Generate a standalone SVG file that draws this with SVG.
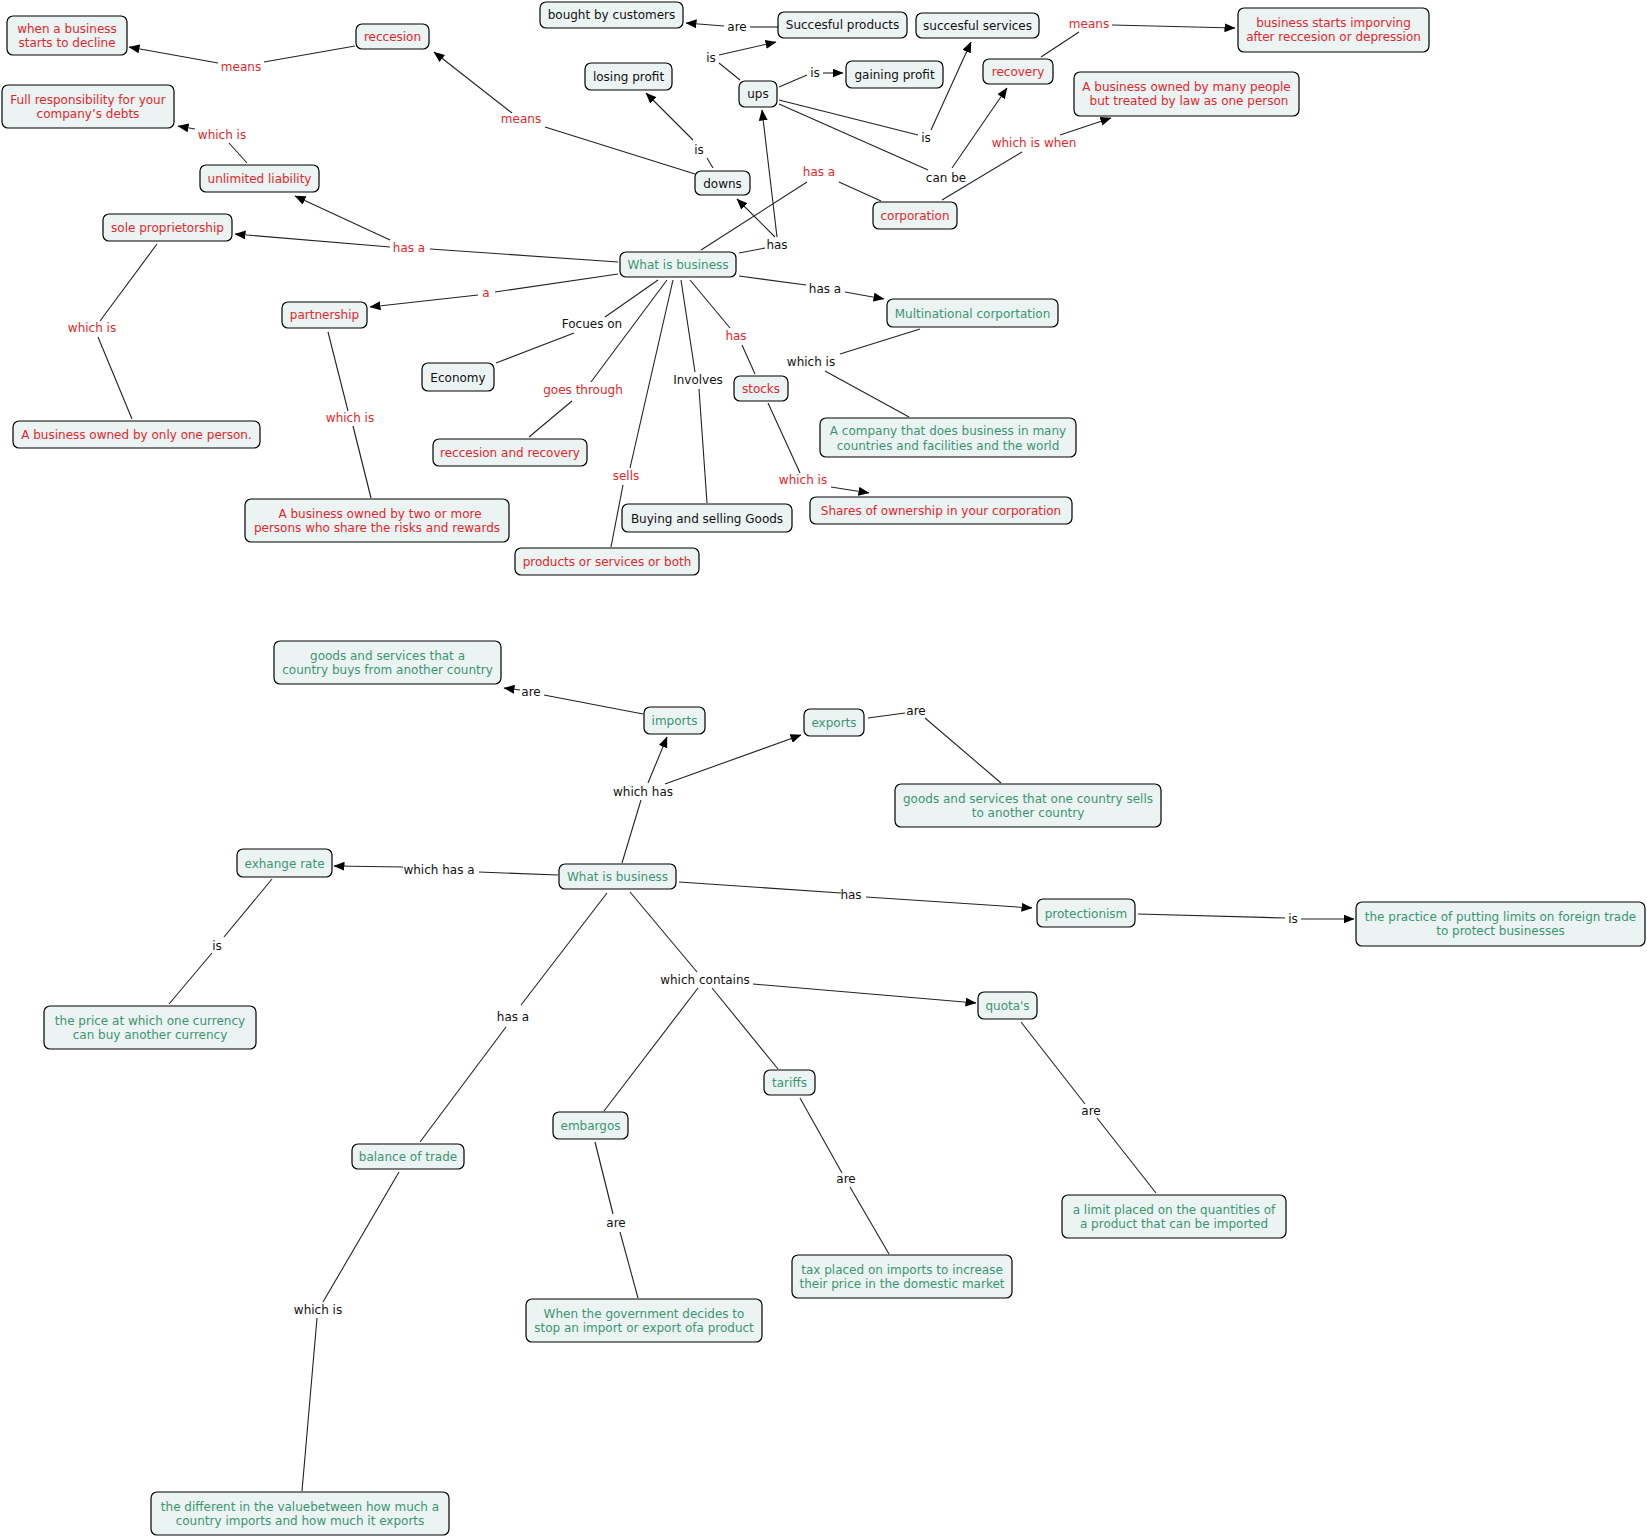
<svg xmlns="http://www.w3.org/2000/svg" width="1647" height="1537" viewBox="0 0 1647 1537">
<style>
text{font-family:"DejaVu Sans","Verdana",sans-serif;font-size:12px;text-anchor:middle}
.box{fill:#ecf3f3;stroke:#000;stroke-width:1.2}
.r{fill:#e3262b}
.g{fill:#3b9670}
.k{fill:#111}
.c line{stroke:#222;stroke-width:1.1}
.c line.a{marker-end:url(#ah)}
</style>
<defs>
<marker id="ah" markerUnits="userSpaceOnUse" markerWidth="11" markerHeight="9" refX="10.5" refY="4.5" orient="auto">
<path d="M0,0 L11,4.5 L0,9 z" fill="#000"/>
</marker>
</defs>
<rect width="1647" height="1537" fill="#fff"/>
<g id="connectors" class="c">
<line x1="355" y1="46" x2="264" y2="62"/><line class="a" x1="218" y1="63" x2="129" y2="47"/>
<line x1="695" y1="174" x2="545" y2="127"/><line class="a" x1="512" y1="113" x2="434" y2="52"/>
<line x1="247" y1="163" x2="229" y2="143"/><line class="a" x1="195" y1="129" x2="178" y2="126"/>
<line x1="618" y1="262" x2="430" y2="249"/><line class="a" x1="390" y1="240" x2="295" y2="196"/><line class="a" x1="390" y1="247" x2="235" y2="234"/>
<line x1="778" y1="27" x2="750" y2="27"/><line class="a" x1="724" y1="26" x2="686" y2="23"/>
<line x1="740" y1="80" x2="719" y2="63"/><line class="a" x1="719" y1="55" x2="776" y2="42"/>
<line x1="779" y1="87" x2="807" y2="75"/><line class="a" x1="823" y1="73" x2="843" y2="73"/>
<line x1="713" y1="168" x2="707" y2="158"/><line class="a" x1="693" y1="140" x2="646" y2="93"/>
<line x1="739" y1="253" x2="765" y2="248"/><line class="a" x1="775" y1="237" x2="737" y2="199"/><line class="a" x1="777" y1="237" x2="762" y2="110"/>
<line x1="701" y1="250" x2="807" y2="182"/><line x1="839" y1="182" x2="881" y2="201"/>
<line x1="779" y1="100" x2="918" y2="135"/><line class="a" x1="931" y1="130" x2="971" y2="42"/>
<line x1="779" y1="104" x2="928" y2="170"/><line class="a" x1="952" y1="168" x2="1007" y2="88"/>
<line x1="1041" y1="57" x2="1079" y2="32"/><line class="a" x1="1112" y1="25" x2="1235" y2="28"/>
<line x1="942" y1="200" x2="1022" y2="152"/><line class="a" x1="1060" y1="135" x2="1111" y2="118"/>
<line x1="739" y1="276" x2="806" y2="285"/><line class="a" x1="845" y1="292" x2="884" y2="299"/>
<line x1="920" y1="329" x2="840" y2="354"/><line x1="825" y1="371" x2="909" y2="417"/>
<line x1="690" y1="280" x2="730" y2="328"/><line x1="742" y1="345" x2="755" y2="374"/>
<line x1="768" y1="403" x2="800" y2="473"/><line class="a" x1="831" y1="487" x2="869" y2="493"/>
<line x1="681" y1="280" x2="695" y2="372"/><line x1="699" y1="389" x2="707" y2="503"/>
<line x1="673" y1="280" x2="630" y2="468"/><line x1="623" y1="485" x2="611" y2="547"/>
<line x1="667" y1="280" x2="591" y2="382"/><line x1="572" y1="401" x2="529" y2="437"/>
<line x1="658" y1="280" x2="605" y2="317"/><line x1="574" y1="333" x2="496" y2="363"/>
<line x1="618" y1="274" x2="495" y2="292"/><line class="a" x1="478" y1="295" x2="370" y2="307"/>
<line x1="157" y1="244" x2="100" y2="321"/><line x1="98" y1="337" x2="132" y2="419"/>
<line x1="328" y1="332" x2="348" y2="411"/><line x1="353" y1="426" x2="371" y2="498"/>
<line x1="643" y1="714" x2="544" y2="695"/><line class="a" x1="520" y1="690" x2="504" y2="688"/>
<line x1="622" y1="863" x2="641" y2="800"/><line class="a" x1="648" y1="783" x2="667" y2="737"/><line class="a" x1="665" y1="784" x2="801" y2="735"/>
<line x1="868" y1="718" x2="905" y2="713"/><line x1="925" y1="718" x2="1001" y2="783"/>
<line x1="558" y1="875" x2="479" y2="872"/><line class="a" x1="403" y1="867" x2="334" y2="866"/>
<line x1="679" y1="882" x2="841" y2="893"/><line class="a" x1="866" y1="897" x2="1032" y2="908"/>
<line x1="1138" y1="914" x2="1285" y2="918"/><line class="a" x1="1301" y1="919" x2="1354" y2="919"/>
<line x1="272" y1="879" x2="224" y2="937"/><line x1="212" y1="953" x2="169" y2="1004"/>
<line x1="607" y1="893" x2="521" y2="1005"/><line x1="506" y1="1027" x2="420" y2="1142"/>
<line x1="630" y1="892" x2="697" y2="972"/><line class="a" x1="753" y1="984" x2="976" y2="1003"/><line x1="698" y1="988" x2="604" y2="1111"/><line x1="712" y1="988" x2="778" y2="1069"/>
<line x1="1021" y1="1022" x2="1085" y2="1104"/><line x1="1097" y1="1118" x2="1156" y2="1193"/>
<line x1="800" y1="1098" x2="842" y2="1173"/><line x1="850" y1="1187" x2="889" y2="1254"/>
<line x1="595" y1="1142" x2="613" y2="1214"/><line x1="620" y1="1232" x2="638" y2="1298"/>
<line x1="399" y1="1172" x2="323" y2="1302"/><line x1="317" y1="1318" x2="302" y2="1491"/>
<text class="r" x="241" y="71">means</text>
<text class="r" x="521" y="123">means</text>
<text class="r" x="222" y="139">which is</text>
<text class="r" x="409" y="252">has a</text>
<text class="k" x="737" y="31">are</text>
<text class="k" x="711" y="62">is</text>
<text class="k" x="815" y="77">is</text>
<text class="k" x="699" y="154">is</text>
<text class="k" x="777" y="249">has</text>
<text class="r" x="819" y="176">has a</text>
<text class="k" x="926" y="142">is</text>
<text class="k" x="946" y="182">can be</text>
<text class="r" x="1089" y="28">means</text>
<text class="r" x="1034" y="147">which is when</text>
<text class="k" x="825" y="293">has a</text>
<text class="k" x="811" y="366">which is</text>
<text class="r" x="736" y="340">has</text>
<text class="r" x="803" y="484">which is</text>
<text class="k" x="698" y="384">Involves</text>
<text class="r" x="626" y="480">sells</text>
<text class="r" x="583" y="394">goes through</text>
<text class="k" x="592" y="328">Focues on</text>
<text class="r" x="486" y="297">a</text>
<text class="r" x="92" y="332">which is</text>
<text class="r" x="350" y="422">which is</text>
<text class="k" x="531" y="696">are</text>
<text class="k" x="643" y="796">which has</text>
<text class="k" x="916" y="715">are</text>
<text class="k" x="439" y="874">which has a</text>
<text class="k" x="851" y="899">has</text>
<text class="k" x="1293" y="923">is</text>
<text class="k" x="217" y="950">is</text>
<text class="k" x="513" y="1021">has a</text>
<text class="k" x="705" y="984">which contains</text>
<text class="k" x="1091" y="1115">are</text>
<text class="k" x="846" y="1183">are</text>
<text class="k" x="616" y="1227">are</text>
<text class="k" x="318" y="1314">which is</text>
</g>
<g id="n_decline"><rect class="box" x="7" y="16" width="120" height="39" rx="6"/><text class="r" x="67" y="33">when a business</text><text class="r" x="67" y="47">starts to decline</text></g>
<g id="n_reccesion"><rect class="box" x="356" y="24" width="73" height="25" rx="6"/><text class="r" x="392.5" y="41">reccesion</text></g>
<g id="n_fullresp"><rect class="box" x="2" y="85" width="172" height="43" rx="6"/><text class="r" x="88" y="104">Full responsibility for your</text><text class="r" x="88" y="118">company’s debts</text></g>
<g id="n_unlimited"><rect class="box" x="200" y="165" width="119" height="27" rx="6"/><text class="r" x="259.5" y="183">unlimited liability</text></g>
<g id="n_soleprop"><rect class="box" x="103" y="214" width="129" height="27" rx="6"/><text class="r" x="167.5" y="232">sole proprietorship</text></g>
<g id="n_bought"><rect class="box" x="540" y="2" width="143" height="26" rx="6"/><text class="k" x="611.5" y="19">bought by customers</text></g>
<g id="n_sucprod"><rect class="box" x="778" y="12" width="129" height="26" rx="6"/><text class="k" x="842.5" y="29">Succesful products</text></g>
<g id="n_sucserv"><rect class="box" x="916" y="13" width="123" height="25" rx="6"/><text class="k" x="977.5" y="30">succesful services</text></g>
<g id="n_losing"><rect class="box" x="585" y="63" width="87" height="27" rx="6"/><text class="k" x="628.5" y="81">losing profit</text></g>
<g id="n_ups"><rect class="box" x="739" y="81" width="38" height="26" rx="6"/><text class="k" x="758" y="98">ups</text></g>
<g id="n_gaining"><rect class="box" x="846" y="61" width="97" height="27" rx="6"/><text class="k" x="894.5" y="79">gaining profit</text></g>
<g id="n_downs"><rect class="box" x="695" y="171" width="55" height="24" rx="6"/><text class="k" x="722.5" y="187.5">downs</text></g>
<g id="n_recovery"><rect class="box" x="983" y="59" width="70" height="25" rx="6"/><text class="r" x="1018" y="76">recovery</text></g>
<g id="n_bizstarts"><rect class="box" x="1238" y="8" width="191" height="44" rx="6"/><text class="r" x="1333.5" y="27">business starts imporving</text><text class="r" x="1333.5" y="41">after reccesion or depression</text></g>
<g id="n_manypeople"><rect class="box" x="1074" y="72" width="225" height="44" rx="6"/><text class="r" x="1186.5" y="91">A business owned by many people</text><text class="r" x="1189" y="105">but treated by law as one person</text></g>
<g id="n_corporation"><rect class="box" x="873" y="202" width="84" height="27" rx="6"/><text class="r" x="915" y="220">corporation</text></g>
<g id="n_wib1"><rect class="box" x="620" y="252" width="116" height="25" rx="6"/><text class="g" x="678" y="269">What is business</text></g>
<g id="n_mnc"><rect class="box" x="887" y="299" width="171" height="28" rx="6"/><text class="g" x="972.5" y="317.5">Multinational corportation</text></g>
<g id="n_partnership"><rect class="box" x="282" y="302" width="85" height="26" rx="6"/><text class="r" x="324.5" y="319">partnership</text></g>
<g id="n_economy"><rect class="box" x="422" y="363" width="72" height="28" rx="6"/><text class="k" x="458" y="381.5">Economy</text></g>
<g id="n_stocks"><rect class="box" x="734" y="376" width="54" height="25" rx="6"/><text class="r" x="761" y="393">stocks</text></g>
<g id="n_company"><rect class="box" x="820" y="418" width="256" height="39" rx="6"/><text class="g" x="948" y="435">A company that does business in many</text><text class="g" x="948" y="449.5">countries and facilities and the world</text></g>
<g id="n_oneperson"><rect class="box" x="13" y="421" width="247" height="27" rx="6"/><text class="r" x="136.5" y="439">A business owned by only one person.</text></g>
<g id="n_recrec"><rect class="box" x="433" y="439" width="154" height="27" rx="6"/><text class="r" x="510" y="457">reccesion and recovery</text></g>
<g id="n_shares"><rect class="box" x="810" y="497" width="262" height="27" rx="6"/><text class="r" x="941" y="515">Shares of ownership in your corporation</text></g>
<g id="n_twoormore"><rect class="box" x="245" y="499" width="264" height="43" rx="6"/><text class="r" x="380" y="518">A business owned by two or more</text><text class="r" x="377" y="532">persons who share the risks and rewards</text></g>
<g id="n_buying"><rect class="box" x="622" y="504" width="170" height="28" rx="6"/><text class="k" x="707" y="522.5">Buying and selling Goods</text></g>
<g id="n_products"><rect class="box" x="515" y="548" width="184" height="27" rx="6"/><text class="r" x="607" y="566">products or services or both</text></g>
<g id="n_goodsbuy"><rect class="box" x="274" y="641" width="227" height="43" rx="6"/><text class="g" x="387.5" y="660">goods and services that a</text><text class="g" x="387.5" y="674">country buys from another country</text></g>
<g id="n_imports"><rect class="box" x="644" y="707" width="61" height="27" rx="6"/><text class="g" x="674.5" y="725">imports</text></g>
<g id="n_exports"><rect class="box" x="804" y="709" width="60" height="27" rx="6"/><text class="g" x="834" y="727">exports</text></g>
<g id="n_goodssell"><rect class="box" x="895" y="784" width="266" height="43" rx="6"/><text class="g" x="1028" y="803">goods and services that one country sells</text><text class="g" x="1028" y="817">to another country</text></g>
<g id="n_exrate"><rect class="box" x="237" y="849" width="95" height="28" rx="6"/><text class="g" x="284.5" y="867.5">exhange rate</text></g>
<g id="n_wib2"><rect class="box" x="559" y="864" width="117" height="25" rx="6"/><text class="g" x="617.5" y="881">What is business</text></g>
<g id="n_protect"><rect class="box" x="1037" y="899" width="98" height="28" rx="6"/><text class="g" x="1086" y="917.5">protectionism</text></g>
<g id="n_practice"><rect class="box" x="1356" y="902" width="289" height="44" rx="6"/><text class="g" x="1500.5" y="921">the practice of putting limits on foreign trade</text><text class="g" x="1500.5" y="935">to protect businesses</text></g>
<g id="n_price"><rect class="box" x="44" y="1006" width="212" height="43" rx="6"/><text class="g" x="150" y="1025">the price at which one currency</text><text class="g" x="150" y="1039">can buy another currency</text></g>
<g id="n_quotas"><rect class="box" x="978" y="992" width="59" height="27" rx="6"/><text class="g" x="1007.5" y="1010">quota's</text></g>
<g id="n_tariffs"><rect class="box" x="764" y="1070" width="51" height="25" rx="6"/><text class="g" x="789.5" y="1087">tariffs</text></g>
<g id="n_embargos"><rect class="box" x="553" y="1112" width="75" height="27" rx="6"/><text class="g" x="590.5" y="1130">embargos</text></g>
<g id="n_balance"><rect class="box" x="352" y="1144" width="112" height="25" rx="6"/><text class="g" x="408" y="1161">balance of trade</text></g>
<g id="n_limit"><rect class="box" x="1062" y="1195" width="224" height="43" rx="6"/><text class="g" x="1174" y="1214">a limit placed on the quantities of</text><text class="g" x="1174" y="1228">a product that can be imported</text></g>
<g id="n_tax"><rect class="box" x="792" y="1255" width="220" height="43" rx="6"/><text class="g" x="902" y="1274">tax placed on imports to increase</text><text class="g" x="902" y="1288">their price in the domestic market</text></g>
<g id="n_government"><rect class="box" x="526" y="1299" width="236" height="43" rx="6"/><text class="g" x="644" y="1318">When the government decides to</text><text class="g" x="644" y="1332">stop an import or export ofa product</text></g>
<g id="n_different"><rect class="box" x="151" y="1492" width="298" height="43" rx="6"/><text class="g" x="300" y="1511">the different in the valuebetween how much a</text><text class="g" x="300" y="1525">country imports and how much it exports</text></g>
</svg>
